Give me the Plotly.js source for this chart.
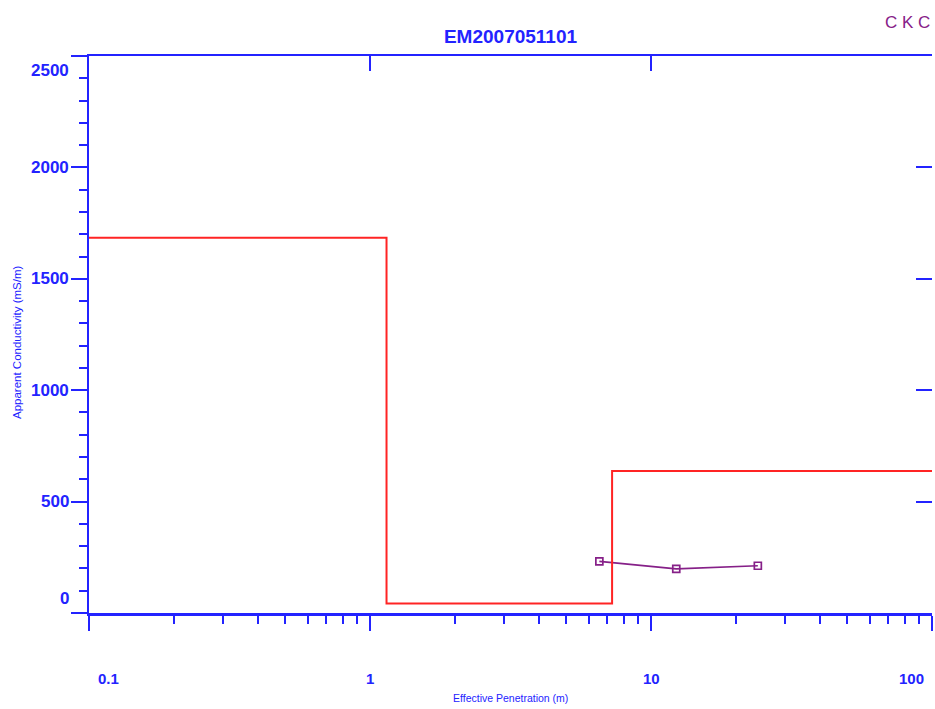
<!DOCTYPE html>
<html>
<head>
<meta charset="utf-8">
<script src="https://cdn.plot.ly/plotly-3.0.1.min.js"></script>
<style>
  html, body { margin: 0; padding: 0; background: #ffffff; }
  #chart { width: 935px; height: 709px; }
</style>
</head>
<body>
<div id="chart"></div>
<script>
// Layered conductivity model (step profile)
const layerDepths = [0.1, 1.145, 7.27, 100];          // m (layer tops, last = plot end)
const layerConductivity = [1684, 43, 637, 637];        // mS/m

// Measured apparent conductivity
const penetration = [6.55, 12.3, 24.0];                // m
const apparentConductivity = [232, 198, 212];          // mS/m

// Axis ticks and labels
const xTickVals = [0.1, 1, 10, 100];
const xTickText = ['0.1', '1', '10', '100'];
const yTickVals = [0, 500, 1000, 1500, 2000, 2500];
const yTickText = ['0', '500', '1000', '1500', '2000', '2500'];

const chartTitle = 'EM2007051101';
const stationTag = 'C K C';
const xTitle = 'Effective Penetration (m)';
const yTitle = 'Apparent Conductivity (mS/m)';

const BLUE = '#2323ff';
const RED = '#ff2424';
const PURPLE = '#862088';
const FONT = '"Liberation Sans", Arial, sans-serif';

// minor log ticks 2..9 in each decade
const xMinor = [];
for (let d = 0; d < xTickVals.length - 1; d++) {
  for (let k = 2; k <= 9; k++) xMinor.push(xTickVals[d] * k);
}

const traces = [
  {
    x: penetration, y: apparentConductivity,
    type: 'scatter', mode: 'lines+markers',
    line: { color: PURPLE, width: 1.7 },
    marker: { symbol: 'square-open', size: 7, color: PURPLE, line: { width: 1.7, color: PURPLE } },
    hoverinfo: 'skip', showlegend: false
  },
  {
    x: layerDepths, y: layerConductivity,
    type: 'scatter', mode: 'lines',
    line: { color: RED, width: 2, shape: 'hv' },
    hoverinfo: 'skip', showlegend: false
  },
  // carriers for the top and right frame axes
  { x: [], y: [], xaxis: 'x2', yaxis: 'y', type: 'scatter', showlegend: false, hoverinfo: 'skip' },
  { x: [], y: [], xaxis: 'x', yaxis: 'y2', type: 'scatter', showlegend: false, hoverinfo: 'skip' }
];

const annotations = [];
// x tick labels (end labels nudged inward)
xTickVals.forEach((v, i) => {
  let shift = 0;
  if (i === 0) shift = 19;
  if (i === xTickVals.length - 1) shift = -21;
  annotations.push({
    xref: 'x', yref: 'paper', x: Math.log10(v), y: 0,
    text: xTickText[i], showarrow: false,
    xanchor: 'center', yanchor: 'middle', xshift: shift, yshift: -65,
    font: { family: FONT, size: 15, color: BLUE, weight: 'bold' }
  });
});
// y tick labels (end labels nudged inward)
yTickVals.forEach((v, i) => {
  let shift = 0;
  if (i === 0) shift = 15;
  if (i === yTickVals.length - 1) shift = -14;
  annotations.push({
    xref: 'paper', yref: 'y', x: 0, y: v,
    text: yTickText[i], showarrow: false,
    xanchor: 'right', yanchor: 'middle', xshift: -18, yshift: shift,
    font: { family: FONT, size: 17, color: BLUE, weight: 'bold' }
  });
});
annotations.push({
  xref: 'paper', yref: 'paper', x: 0.5, y: 0, yshift: -85,
  text: xTitle, showarrow: false, xanchor: 'center', yanchor: 'middle',
  font: { family: FONT, size: 10.5, color: BLUE }
});
annotations.push({
  xref: 'paper', yref: 'paper', x: 0, y: 0.4865, xshift: -72,
  text: yTitle, textangle: -90, showarrow: false, xanchor: 'center', yanchor: 'middle',
  font: { family: FONT, size: 11.5, color: BLUE }
});
annotations.push({
  xref: 'paper', yref: 'paper', x: 1, y: 1, xshift: 0, yshift: 34,
  text: stationTag, showarrow: false, xanchor: 'right', yanchor: 'middle',
  font: { family: FONT, size: 17, color: PURPLE }
});

const logRange = [Math.log10(xTickVals[0]), Math.log10(xTickVals[xTickVals.length - 1])];
const yRange = [yTickVals[0], yTickVals[yTickVals.length - 1]];

const layout = {
  width: 935, height: 709,
  margin: { l: 89, r: 3, t: 56, b: 96 },
  paper_bgcolor: '#ffffff', plot_bgcolor: '#ffffff',
  title: {
    text: chartTitle, x: 0.5, xref: 'paper', xanchor: 'center',
    y: 1 - 36 / 709, yanchor: 'middle',
    font: { family: FONT, size: 19, color: BLUE, weight: 'bold' }
  },
  xaxis: {
    type: 'log', range: logRange,
    tickmode: 'array', tickvals: xTickVals, showticklabels: false,
    ticks: 'outside', ticklen: 15, tickwidth: 2, tickcolor: BLUE,
    minor: { tickmode: 'array', tickvals: xMinor, ticks: 'outside', ticklen: 8, tickwidth: 2, tickcolor: BLUE, showgrid: false },
    showline: true, linecolor: BLUE, linewidth: 2.5,
    showgrid: false, zeroline: false, fixedrange: true
  },
  xaxis2: {
    type: 'log', range: logRange, overlaying: 'x', side: 'top', anchor: 'y',
    tickmode: 'array', tickvals: xTickVals, showticklabels: false,
    ticks: 'inside', ticklen: 15, tickwidth: 2, tickcolor: BLUE,
    showline: true, linecolor: BLUE, linewidth: 2.5,
    showgrid: false, zeroline: false, fixedrange: true
  },
  yaxis: {
    range: yRange,
    tickmode: 'array', tickvals: yTickVals, showticklabels: false,
    ticks: 'outside', ticklen: 16, tickwidth: 2, tickcolor: BLUE,
    minor: { dtick: 100, ticks: 'outside', ticklen: 8, tickwidth: 2, tickcolor: BLUE, showgrid: false },
    showline: true, linecolor: BLUE, linewidth: 2.5,
    showgrid: false, zeroline: false, fixedrange: true
  },
  yaxis2: {
    range: yRange, overlaying: 'y', side: 'right', anchor: 'x',
    tickmode: 'array', tickvals: yTickVals.slice(1, -1), showticklabels: false,
    ticks: 'inside', ticklen: 16, tickwidth: 2, tickcolor: BLUE,
    showline: false, showgrid: false, zeroline: false, fixedrange: true
  },
  annotations: annotations,
  showlegend: false
};

Plotly.newPlot('chart', traces, layout, { displayModeBar: false, staticPlot: true });
</script>
</body>
</html>
